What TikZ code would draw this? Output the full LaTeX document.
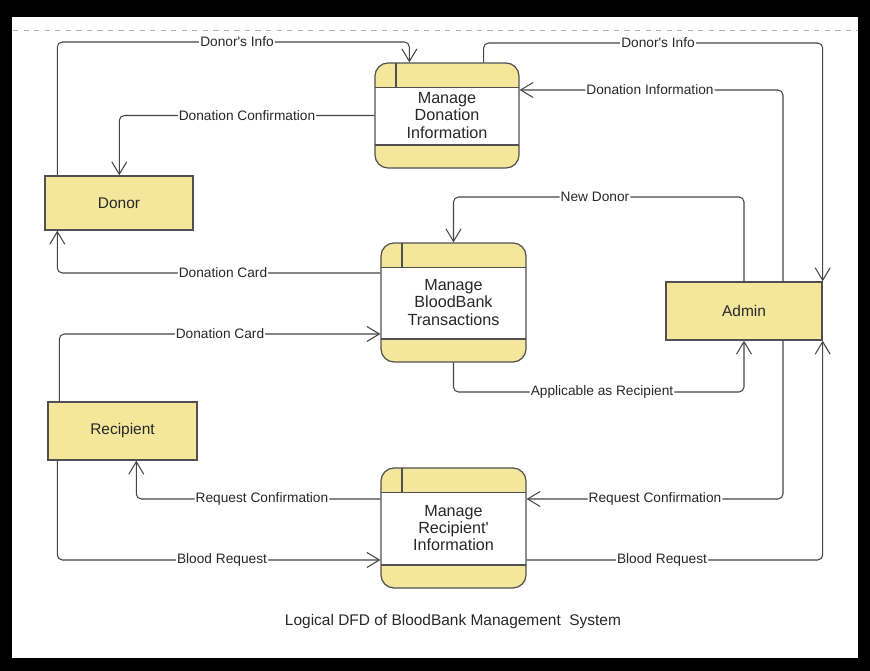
\documentclass[tikz,border=0pt]{standalone}
\usepackage{fontspec}
\setmainfont{Liberation Sans}
\usetikzlibrary{arrows.meta}
\definecolor{dfdyellow}{RGB}{244,231,155}
\definecolor{boxline}{RGB}{80,80,80}
\definecolor{flowline}{RGB}{70,70,70}
\definecolor{textgray}{RGB}{40,40,40}
\tikzset{
  proc/.style={draw=boxline, fill=dfdyellow, line width=0.7pt, rounded corners=0.26cm,
    align=center, text=textgray, font=\fontsize{9.2}{9.8}\selectfont, inner sep=0pt,
    minimum width=2.9cm, minimum height=2.4cm,
    path picture={
      \fill[white, sharp corners] ([yshift=-0.49cm]path picture bounding box.north west)
        rectangle ([yshift=0.46cm]path picture bounding box.south east);
      \draw[boxline, line width=0.7pt, sharp corners]
        ([yshift=-0.49cm]path picture bounding box.north west) -- ([yshift=-0.49cm]path picture bounding box.north east)
        ([yshift=0.46cm]path picture bounding box.south west) -- ([yshift=0.46cm]path picture bounding box.south east)
        ([xshift=0.42cm]path picture bounding box.north west) -- ([xshift=0.42cm,yshift=-0.49cm]path picture bounding box.north west);
    }},
  entity/.style={draw=boxline, fill=dfdyellow, line width=0.8pt, text=textgray,
    font=\fontsize{8.8}{10}\selectfont, inner sep=0pt},
  flow/.style={draw=flowline, line width=0.6pt, rounded corners=0.1cm,
    -{Straight Barb[length=2.5mm,width=3mm]}},
  lbl/.style={fill=white, inner sep=0.6pt, text=textgray, font=\fontsize{7.8}{8}\selectfont}
}
\begin{document}
\begin{tikzpicture}[x=0.02cm, y=-0.02cm]
% frame
\fill[black] (0,0) rectangle (870,671);
\fill[white] (12,17) rectangle (858,658);
\draw[black!30, dashed, line width=0.4pt] (13,30) -- (858,30);

% processes
\node[proc, minimum width=2.88cm, minimum height=2.1cm] (pdon) at (447,115.5) {Manage\\Donation\\Information};
\node[proc, minimum height=2.38cm] (pbank) at (453.5,302.5) {Manage\\BloodBank\\Transactions};
\node[proc] (prec) at (453.5,528) {Manage\\Recipient\textquotesingle\\Information};

% external entities
\node[entity, minimum width=2.96cm, minimum height=1.08cm] (donor) at (119,203) {Donor};
\node[entity, minimum width=3.12cm, minimum height=1.16cm] (admin) at (744,311) {Admin};
\node[entity, minimum width=2.98cm, minimum height=1.16cm] (recip) at (122.5,431) {Recipient};

% data flows
\draw[flow] ([xshift=0.26cm]donor.north west) |- (237,42) node[lbl]{Donor\textquotesingle s Info} -| ([xshift=0.7cm]pdon.north west);
\draw[flow] (pdon.west) -- (247,115.5) node[lbl]{Donation Confirmation} -| ([xshift=1.5cm]donor.north west);
\draw[flow] ([xshift=-0.72cm]pdon.north east) |- (658,43) node[lbl]{Donor\textquotesingle s Info} -| (admin.north east);
\draw[flow] ([xshift=0.78cm]admin.north) |- (650,90) node[lbl]{Donation Information} -- ([yshift=0.51cm]pdon.east);
\draw[flow] ([yshift=0.59cm]pbank.west) -- (223,273) node[lbl]{Donation Card} -| ([xshift=0.26cm]donor.south west);
\draw[flow] ([xshift=0.24cm]recip.north west) |- (220,334) node[lbl]{Donation Card} -- ([yshift=-0.63cm]pbank.west);
\draw[flow] (admin.north) |- (595,197) node[lbl]{New Donor} -| (pbank.north);
\draw[flow] (pbank.south) |- (602,392) node[lbl]{Applicable as Recipient} -| (admin.south);
\draw[flow] ([xshift=0.78cm]admin.south) |- (655,499) node[lbl]{Request Confirmation} -- ([yshift=0.58cm]prec.east);
\draw[flow] ([yshift=0.58cm]prec.west) -- (262,499) node[lbl]{Request Confirmation} -| ([xshift=1.78cm]recip.south west);
\draw[flow] ([xshift=0.2cm]recip.south west) |- (222,560) node[lbl]{Blood Request} -- ([yshift=-0.64cm]prec.west);
\draw[flow] ([yshift=-0.64cm]prec.east) -- (662,560) node[lbl]{Blood Request} -| (admin.south east);

% caption
\node[text=textgray, font=\fontsize{8.8}{10}\selectfont] (caption) at (453,622) {Logical DFD of BloodBank Management\ \ System};
\end{tikzpicture}
\end{document}
